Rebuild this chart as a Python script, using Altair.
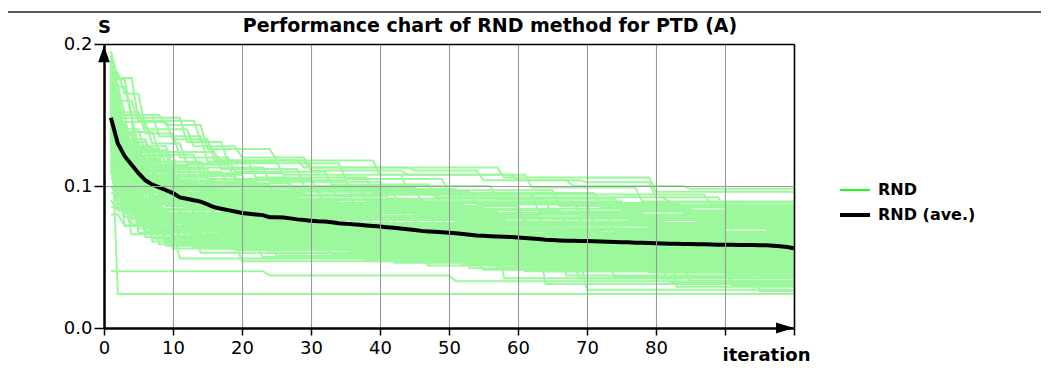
import altair as alt
import pandas as pd

# ---------------- data ----------------
iterations = list(range(1, 101))
ave_values = [
    0.148, 0.130, 0.121, 0.115, 0.109, 0.104, 0.101, 0.099, 0.097, 0.095,
    0.092, 0.091, 0.090, 0.089, 0.087, 0.085, 0.084, 0.083, 0.082, 0.081,
    0.0805, 0.080, 0.0795, 0.078, 0.078, 0.0778, 0.0772, 0.0765, 0.076, 0.0756,
    0.0752, 0.075, 0.0745, 0.0738, 0.0735, 0.073, 0.0727, 0.0722, 0.0718, 0.0714,
    0.071, 0.0706, 0.070, 0.0695, 0.069, 0.0684, 0.068, 0.0677, 0.0674, 0.067,
    0.0667, 0.0662, 0.0657, 0.0652, 0.0649, 0.0646, 0.0644, 0.0642, 0.064, 0.0638,
    0.0634, 0.063, 0.0626, 0.0622, 0.062, 0.0617, 0.0615, 0.0614, 0.0613, 0.0612,
    0.0611, 0.061, 0.0608, 0.0606, 0.0604, 0.0603, 0.0601, 0.060, 0.0598, 0.0596,
    0.0595, 0.0594, 0.0593, 0.0592, 0.0591, 0.059, 0.0589, 0.0588, 0.0587, 0.0586,
    0.0586, 0.0585, 0.0585, 0.0584, 0.0583, 0.0582, 0.058, 0.0575, 0.057, 0.0562,
]

# each run: (iteration, new best value) change points
runs = [
    [(1, .195), (2, .176), (5, .146), (14, .132), (16, .123), (17, .118), (30, .111), (44, .108), (60, .104), (70, .1026), (80, .092), (82, .0885)],
    [(1, .185), (2, .175), (4, .150), (9, .143), (15, .126), (25, .118), (29, .113), (45, .111), (55, .104), (68, .100), (85, .098)],
    [(1, .180), (3, .165), (6, .140), (13, .128), (20, .120), (30, .113), (58, .106), (80, .096)],
    [(1, .175), (2, .160), (5, .145), (10, .133), (16, .118), (40, .108), (62, .099), (78, .089)],
    [(1, .190), (2, .170), (4, .148), (12, .131), (18, .116), (35, .105), (50, .094), (88, .087)],
    [(1, .170), (3, .150), (8, .135), (15, .117), (26, .108), (44, .097), (66, .086)],
    [(1, .160), (2, .145), (7, .130), (12, .116), (22, .106), (39, .095), (72, .085)],
    [(1, .188), (2, .152), (6, .137), (11, .120), (19, .110), (33, .101), (48, .092), (90, .084)],
    [(1, .150), (3, .138), (8, .124), (17, .112), (29, .100), (57, .091), (75, .083)],
    [(1, .178), (2, .148), (5, .128), (10, .113), (24, .103), (41, .094), (63, .082)],
    [(1, .165), (2, .140), (6, .122), (14, .109), (27, .098), (52, .088), (84, .081)],
    [(1, .145), (4, .126), (9, .115), (19, .104), (36, .094), (60, .080)],
    [(1, .183), (2, .142), (4, .121), (11, .108), (21, .099), (46, .089), (69, .079)],
    [(1, .155), (2, .133), (7, .117), (15, .105), (31, .096), (54, .087), (93, .078)],
    [(1, .172), (3, .130), (6, .114), (13, .102), (28, .091), (65, .077)],
    [(1, .140), (2, .127), (8, .110), (18, .100), (38, .089), (76, .076)],
    [(1, .168), (2, .136), (5, .118), (9, .103), (23, .094), (43, .084), (86, .075)],
    [(1, .158), (3, .125), (10, .107), (20, .097), (49, .086), (61, .074)],
    [(1, .192), (2, .158), (3, .131), (7, .112), (16, .099), (34, .088), (71, .073)],
    [(1, .135), (2, .120), (6, .105), (12, .095), (30, .085), (56, .072)],
    [(1, .176), (2, .138), (4, .116), (8, .101), (25, .090), (47, .081), (79, .071)],
    [(1, .148), (3, .121), (9, .104), (17, .093), (42, .083), (67, .070)],
    [(1, .162), (2, .128), (5, .110), (14, .096), (32, .087), (53, .078), (96, .069)],
    [(1, .130), (2, .118), (7, .102), (21, .091), (45, .080), (74, .068)],
    [(1, .186), (2, .150), (4, .125), (10, .100), (19, .090), (37, .079), (64, .067)],
    [(1, .152), (2, .124), (6, .106), (16, .092), (29, .082), (58, .066)],
    [(1, .170), (2, .132), (3, .113), (11, .097), (26, .086), (51, .075), (82, .065)],
    [(1, .125), (3, .112), (8, .098), (18, .088), (40, .077), (70, .064)],
    [(1, .180), (2, .145), (5, .119), (9, .099), (22, .084), (44, .073), (89, .063)],
    [(1, .142), (2, .119), (6, .101), (15, .089), (35, .078), (62, .062)],
    [(1, .166), (2, .134), (4, .108), (13, .094), (27, .081), (55, .070), (77, .061)],
    [(1, .120), (2, .109), (7, .095), (20, .083), (48, .072), (68, .060)],
    [(1, .190), (2, .155), (3, .127), (6, .103), (12, .087), (33, .076), (59, .059)],
    [(1, .138), (3, .115), (10, .093), (24, .080), (41, .069), (91, .058)],
    [(1, .174), (2, .137), (5, .111), (11, .090), (28, .079), (50, .068), (73, .057)],
    [(1, .146), (2, .122), (4, .104), (14, .086), (36, .074), (63, .056)],
    [(1, .160), (2, .126), (8, .097), (17, .082), (39, .071), (57, .055)],
    [(1, .115), (2, .103), (9, .088), (23, .077), (46, .066), (81, .054)],
    [(1, .184), (2, .147), (3, .120), (7, .098), (16, .084), (31, .073), (66, .053)],
    [(1, .133), (2, .114), (5, .096), (13, .083), (30, .070), (52, .052)],
    [(1, .169), (2, .131), (6, .107), (10, .089), (25, .076), (43, .065), (87, .051)],
    [(1, .144), (3, .117), (8, .094), (19, .078), (38, .067), (60, .050)],
    [(1, .157), (2, .123), (4, .102), (12, .085), (34, .072), (54, .062), (75, .049)],
    [(1, .110), (2, .100), (6, .087), (15, .075), (32, .064), (69, .048)],
    [(1, .181), (2, .144), (3, .118), (5, .099), (14, .081), (27, .069), (47, .058), (94, .047)],
    [(1, .139), (2, .116), (7, .092), (18, .076), (42, .063), (65, .046)],
    [(1, .163), (2, .129), (4, .105), (9, .086), (21, .072), (37, .061), (78, .045)],
    [(1, .127), (2, .111), (5, .091), (16, .079), (33, .066), (56, .044)],
    [(1, .177), (2, .139), (4, .112), (8, .090), (20, .074), (44, .060), (72, .043)],
    [(1, .149), (2, .121), (6, .095), (11, .080), (29, .068), (53, .042)],
    [(1, .105), (3, .096), (10, .084), (26, .071), (49, .057), (85, .041)],
    [(1, .171), (2, .135), (3, .109), (7, .088), (15, .073), (35, .059), (61, .040)],
    [(1, .136), (2, .113), (8, .089), (22, .070), (45, .056), (80, .039)],
    [(1, .100), (2, .092), (6, .078), (17, .065), (40, .052), (67, .037)],
    [(1, .040), (24, .037), (51, .033)],
    [(1, .164), (2, .110), (3, .081), (9, .068), (28, .055), (58, .035)],
    [(1, .090), (2, .083), (12, .070), (31, .058), (64, .031)],
    [(1, .153), (2, .024)],
    [(1, .095), (4, .080), (13, .066), (39, .054), (83, .029)],
    [(1, .085), (5, .075), (18, .062), (50, .048), (70, .027)],
    [(1, .080), (3, .072), (11, .063), (36, .050), (95, .026)],
    [(1, .173), (2, .141), (4, .100), (13, .080), (30, .067), (63, .054)],
    [(1, .159), (2, .130), (5, .098), (16, .077), (42, .064), (76, .052)],
    [(1, .143), (2, .118), (7, .093), (20, .082), (46, .069), (86, .062)],
    [(1, .187), (2, .153), (3, .122), (6, .096), (12, .079), (37, .065), (71, .058)],
    [(1, .131), (4, .106), (10, .087), (24, .074), (48, .063), (92, .057)],
    [(1, .167), (2, .137), (5, .103), (14, .085), (34, .071), (59, .061)],
    [(1, .154), (2, .124), (9, .091), (23, .078), (52, .066), (79, .060)],
    [(1, .122), (2, .108), (11, .086), (27, .073), (55, .063), (98, .059)],
    [(1, .179), (2, .143), (4, .114), (8, .092), (19, .081), (41, .070), (74, .064)],
    [(1, .165), (2, .120), (4, .085), (9, .062), (30, .058), (66, .047)],
    [(1, .150), (2, .105), (3, .078), (12, .060), (45, .052), (88, .044)],
    [(1, .172), (2, .130), (5, .090), (8, .071), (21, .064), (53, .055)],
    [(1, .138), (3, .098), (6, .075), (15, .066), (40, .058), (77, .050)],
    [(1, .185), (2, .140), (3, .105), (7, .080), (13, .068), (35, .061), (80, .053)],
    [(1, .125), (2, .095), (5, .070), (16, .062), (50, .054), (73, .045)],
    [(1, .160), (2, .112), (4, .082), (10, .056), (37, .049), (64, .040)],
    [(1, .145), (2, .101), (6, .068), (14, .053), (42, .046), (90, .038)],
    [(1, .178), (2, .128), (3, .092), (6, .074), (18, .059), (58, .050), (84, .042)],
    [(1, .132), (2, .090), (4, .066), (11, .049), (47, .044), (69, .035)],
    [(1, .168), (3, .110), (5, .079), (12, .064), (26, .057), (61, .048)],
    [(1, .155), (2, .108), (4, .073), (9, .058), (33, .052), (75, .043)],
    [(1, .142), (2, .097), (7, .061), (20, .047), (55, .041), (82, .032)],
    [(1, .190), (2, .146), (3, .101), (5, .083), (14, .070), (31, .063), (70, .056)],
    [(1, .118), (2, .088), (6, .064), (19, .055), (44, .050), (87, .046)],
    [(1, .175), (2, .125), (4, .087), (8, .069), (22, .060), (49, .053), (93, .049)],
    [(1, .128), (3, .086), (9, .060), (25, .051), (52, .045), (79, .039)],
    [(1, .162), (2, .115), (5, .076), (10, .065), (28, .059), (67, .051)],
    [(1, .148), (2, .104), (3, .072), (13, .057), (38, .048), (60, .041)],
    [(1, .183), (2, .137), (4, .094), (7, .077), (17, .067), (43, .060), (78, .055)],
    [(1, .112), (2, .084), (8, .059), (23, .050), (57, .042), (91, .030)],
    [(1, .170), (2, .121), (3, .089), (9, .072), (24, .065), (54, .058), (97, .052)],
    [(1, .135), (2, .093), (5, .067), (15, .056), (48, .047), (74, .036)],
    [(1, .157), (2, .117), (4, .080), (11, .063), (29, .055), (63, .046)],
    [(1, .140), (2, .099), (6, .071), (16, .061), (36, .054), (72, .048)],
    [(1, .188), (2, .149), (3, .110), (6, .084), (12, .073), (39, .066), (81, .059)],
    [(1, .122), (3, .091), (7, .069), (21, .058), (51, .049), (86, .040)],
    [(1, .166), (2, .119), (4, .084), (10, .070), (27, .062), (59, .054), (95, .050)],
    [(1, .151), (2, .106), (5, .074), (13, .060), (41, .051), (68, .043)],
    [(1, .130), (2, .094), (4, .077), (18, .068), (46, .061), (83, .057)],
    [(1, .176), (2, .133), (3, .097), (8, .076), (20, .069), (56, .063), (89, .060)],
    [(1, .144), (2, .102), (6, .079), (14, .071), (34, .066), (71, .062)],
    [(1, .116), (2, .087), (7, .063), (24, .053), (62, .044), (85, .033)],
    [(1, .163), (2, .123), (4, .090), (9, .078), (25, .072), (65, .067)],
    [(1, .137), (2, .096), (5, .081), (17, .074), (38, .069), (76, .065)],
]

series_names = ["RND", "RND (ave.)"]
series_colors = ["#00ff00", "#000000"]
series_widths = [1.8, 4.0]
x_ticks = list(range(0, 101, 10))
y_ticks = [0.0, 0.1, 0.2]

# ---------------- tables ----------------
rows = []
for r, pts in enumerate(runs):
    prev_it, prev_v = None, None
    for it, v in pts:
        if prev_it is not None and it - 1 > prev_it:
            rows.append({"run": r, "iteration": it - 1, "S": prev_v})
        rows.append({"run": r, "iteration": it, "S": v})
        prev_it, prev_v = it, v
    if prev_it < 100:
        rows.append({"run": r, "iteration": 100, "S": prev_v})
runs_df = pd.DataFrame(rows)
ave_df = pd.DataFrame({"iteration": iterations, "S": ave_values, "series": "RND (ave.)"})

FONT = "DejaVu Sans"

x_enc = alt.X(
    "iteration:Q",
    scale=alt.Scale(domain=[0, 100], nice=False),
    axis=alt.Axis(
        values=x_ticks,
        labelExpr="datum.value >= 90 ? '' : datum.label",
        labelFlush=False,
        grid=True,
        gridColor=alt.condition("datum.value >= 100", alt.value("#000000"), alt.value("#9a9a9a")),
        gridWidth=alt.condition("datum.value >= 100", alt.value(1.6), alt.value(1.1)),
        domainColor="#000000",
        domainWidth=2.5,
        tickColor="#000000",
        tickWidth=1.5,
        tickSize=7,
        labelFont=FONT,
        labelFontSize=18,
        labelColor="#000000",
        labelPadding=4,
        title="iteration",
        titleFont=FONT,
        titleFontSize=18,
        titleFontWeight="bold",
        titleColor="#000000",
        titleX=662,
        titleY=27,
        titleBaseline="middle",
        titleAlign="center",
        zindex=1,
    ),
)
y_enc = alt.Y(
    "S:Q",
    scale=alt.Scale(domain=[0, 0.2], nice=False),
    axis=alt.Axis(
        values=y_ticks,
        format=".1f",
        labelFlush=False,
        grid=True,
        gridColor=alt.condition("datum.value >= 0.2", alt.value("#000000"), alt.value("#9a9a9a")),
        gridWidth=alt.condition("datum.value >= 0.2", alt.value(1.6), alt.value(1.1)),
        domainColor="#000000",
        domainWidth=2.5,
        tickColor="#000000",
        tickWidth=1.5,
        tickSize=10,
        labelFont=FONT,
        labelFontSize=18,
        labelColor="#000000",
        labelPadding=2,
        title="S",
        titleFont=FONT,
        titleFontSize=18,
        titleFontWeight="bold",
        titleColor="#000000",
        titleAngle=0,
        titleX=0,
        titleY=-17,
        titleBaseline="middle",
        titleAlign="center",
        zindex=1,
    ),
)

green = alt.Chart(runs_df).mark_line(color="#9cf89c", strokeWidth=2.0).encode(
    x=x_enc, y=y_enc, detail="run:N"
)

ave = alt.Chart(ave_df).mark_line().encode(
    x=x_enc,
    y=y_enc,
    color=alt.Color(
        "series:N",
        scale=alt.Scale(domain=series_names, range=series_colors),
        legend=alt.Legend(
            title=None,
            orient="none",
            legendX=734,
            legendY=130,
            symbolType="stroke",
            symbolSize=900,
            labelFont=FONT,
            labelFontSize=16,
            labelFontWeight="bold",
            labelColor="#000000",
            labelOffset=6,
            rowPadding=-5,
            padding=0,
        ),
    ),
    strokeWidth=alt.StrokeWidth(
        "series:N",
        scale=alt.Scale(domain=series_names, range=series_widths),
        legend=None,
    ),
)

dummy = pd.DataFrame({"k": [0]})
arrow_up = alt.Chart(dummy).mark_point(
    shape="M0,-1L0.7,1L-0.7,1Z", filled=True, color="#000000", opacity=1, size=275
).encode(x=alt.value(0), y=alt.value(10))
arrow_right = alt.Chart(dummy).mark_point(
    shape="M1,0L-1,-0.6L-1,0.6Z", filled=True, color="#000000", opacity=1, size=324
).encode(x=alt.value(681), y=alt.value(284))
frame_top = alt.Chart(dummy).mark_rule(color="#222222", strokeWidth=1.5).encode(
    x=alt.value(-96), x2=alt.value(937), y=alt.value(-32)
)

chart = (
    alt.layer(green, ave, arrow_up, arrow_right, frame_top)
    .properties(
        width=690,
        height=284,
        padding={"left": 96, "top": 36, "right": 247, "bottom": 48},
        autosize=alt.AutoSizeParams(type="none"),
        title=alt.TitleParams(
            text="Performance chart of RND method for PTD (A)",
            font=FONT,
            fontSize=19,
            fontWeight="bold",
            color="#000000",
            anchor="middle",
            frame="group",
            baseline="middle",
            offset=-34,
            dx=41,
        ),
    )
    .configure_view(stroke="#000000", strokeWidth=1.6)
    .configure(background="#ffffff")
)

chart.save("out.html", embed_options={"renderer": "svg", "actions": False})
